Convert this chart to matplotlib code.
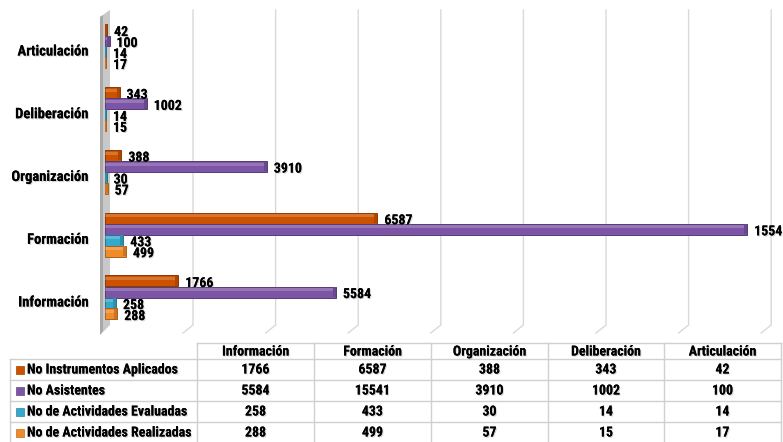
import numpy as np
import matplotlib
matplotlib.use('Agg')
import matplotlib.pyplot as plt
import matplotlib.patheffects as pe
from matplotlib.lines import Line2D
from matplotlib.patches import Polygon, Rectangle
from matplotlib.colors import to_rgb

categorias = ['Información', 'Formación', 'Organización', 'Deliberación', 'Articulación']
series = ['No Instrumentos Aplicados', 'No Asistentes',
          'No de Actividades Evaluadas', 'No de Actividades Realizadas']
instrumentos = [1766, 6587, 388, 343, 42]
asistentes = [5584, 15541, 3910, 1002, 100]
evaluadas = [258, 433, 30, 14, 14]
realizadas = [288, 499, 57, 15, 17]
valores = [instrumentos, asistentes, evaluadas, realizadas]
colores = ['#CC5200', '#7D55A6', '#35A8CB', '#F08B2A']

W, H = 783, 442
plt.rcParams['font.family'] = ['Roboto Condensed', 'DejaVu Sans']
plt.rcParams['font.weight'] = 'bold'

fig = plt.figure(figsize=(W / 100, H / 100), dpi=100)

# sombra suave del texto
sombra = [pe.withSimplePatchShadow(offset=(0.8, -0.8), shadow_rgbFace='#888888', alpha=0.35), pe.Normal()]


def fx(x):
    return x / W


def fy(y):
    return 1 - y / H


def oscuro(c, f=0.7):
    r, g, b = to_rgb(c)
    return (r * f, g * f, b * f)


# zona de grafico (pixeles)
left, right, top, bottom = 105.4, 766.2, 10, 333
escala = (right - left) / 16000

ax = fig.add_axes([fx(left), fy(bottom), (right - left) / W, (bottom - top) / H])
ax.set_xlim(0, 16000)
ax.set_ylim(-0.51, 4.637)
ax.patch.set_visible(False)
for s in ax.spines.values():
    s.set_visible(False)
ax.set_xticks([])
y = np.arange(len(categorias))
ax.set_yticks(y)
ax.set_yticklabels(categorias, fontsize=10.5, fontweight='bold')
ax.tick_params(axis='y', length=0, pad=12)
for t in ax.get_yticklabels():
    t.set_path_effects(sombra)

# lineas de division con efecto 3D
for v in range(2000, 16001, 2000):
    xp = left + v * escala
    fig.add_artist(Line2D([fx(xp + 5), fx(xp + 5), fx(xp - 5)],
                          [fy(top), fy(325), fy(bottom)],
                          color='#d9d9d9', lw=1, zorder=-1))

# pared lateral
fig.add_artist(Polygon([(fx(100), fy(17)), (fx(110), fy(10)), (fx(110), fy(325)), (fx(100), fy(335))],
                       closed=True, facecolor='#c8c8c8', edgecolor='none', zorder=-1))
fig.add_artist(Polygon([(fx(100), fy(17)), (fx(103), fy(15)), (fx(103), fy(331)), (fx(100), fy(335))],
                       closed=True, facecolor='#a8a8a8', edgecolor='none', zorder=-1))

offs = [0.319, 0.143, -0.032, -0.207]
alto = 0.175
tapa = 3 / escala  # extremo redondeado de cada barra
for j in range(4):
    pos = y + offs[j]
    ax.barh(pos, valores[j], height=alto, color=colores[j],
            edgecolor=oscuro(colores[j]), linewidth=0.7, zorder=3)
    ax.barh(pos + alto * 0.22, valores[j], height=alto * 0.28, color='white',
            alpha=0.2, linewidth=0, zorder=4)
    ax.barh(pos, [min(tapa, v) for v in valores[j]], left=[max(v - tapa, 0) for v in valores[j]],
            height=alto * 0.9, color=oscuro(colores[j], 0.85), linewidth=0, zorder=4)
    for yy, v in zip(pos, valores[j]):
        ax.annotate(str(v), (v, yy), xytext=(5, -1.5), textcoords='offset points',
                    ha='left', va='center', fontsize=10, fontweight='bold',
                    annotation_clip=False, zorder=5, path_effects=sombra)

# tabla de datos
cols = [197, 314, 431, 548, 664, 781]
filas = [359, 380, 401, 422, 443]
gris = '#d0d0d0'
fig.add_artist(Line2D([fx(197), fx(781)], [fy(343), fy(343)], color=gris, lw=1))
for f in filas:
    fig.add_artist(Line2D([fx(10), fx(781)], [fy(f), fy(f)], color=gris, lw=1))
fig.add_artist(Line2D([fx(10), fx(10)], [fy(359), fy(443)], color=gris, lw=1))
for c in cols:
    fig.add_artist(Line2D([fx(c), fx(c)], [fy(343), fy(443)], color=gris, lw=1))

for k, nombre in enumerate(categorias):
    xc = (cols[k] + cols[k + 1]) / 2
    fig.text(fx(xc), fy(351.5), nombre, ha='center', va='center', fontsize=10,
             fontweight='bold', path_effects=sombra)

for j, nombre in enumerate(series):
    yc = (filas[j] + filas[j + 1]) / 2
    fig.add_artist(Rectangle((fx(16), fy(yc + 4)), 8 / W, 8 / H,
                             facecolor=colores[j], edgecolor=oscuro(colores[j], 0.8), lw=0.5))
    fig.text(fx(27), fy(yc), nombre, ha='left', va='center', fontsize=10,
             fontweight='bold', path_effects=sombra)
    for k in range(len(categorias)):
        xc = (cols[k] + cols[k + 1]) / 2
        fig.text(fx(xc), fy(yc), str(valores[j][k]), ha='center', va='center',
                 fontsize=10, fontweight='bold', path_effects=sombra)

fig.savefig('out.png', dpi=100)
